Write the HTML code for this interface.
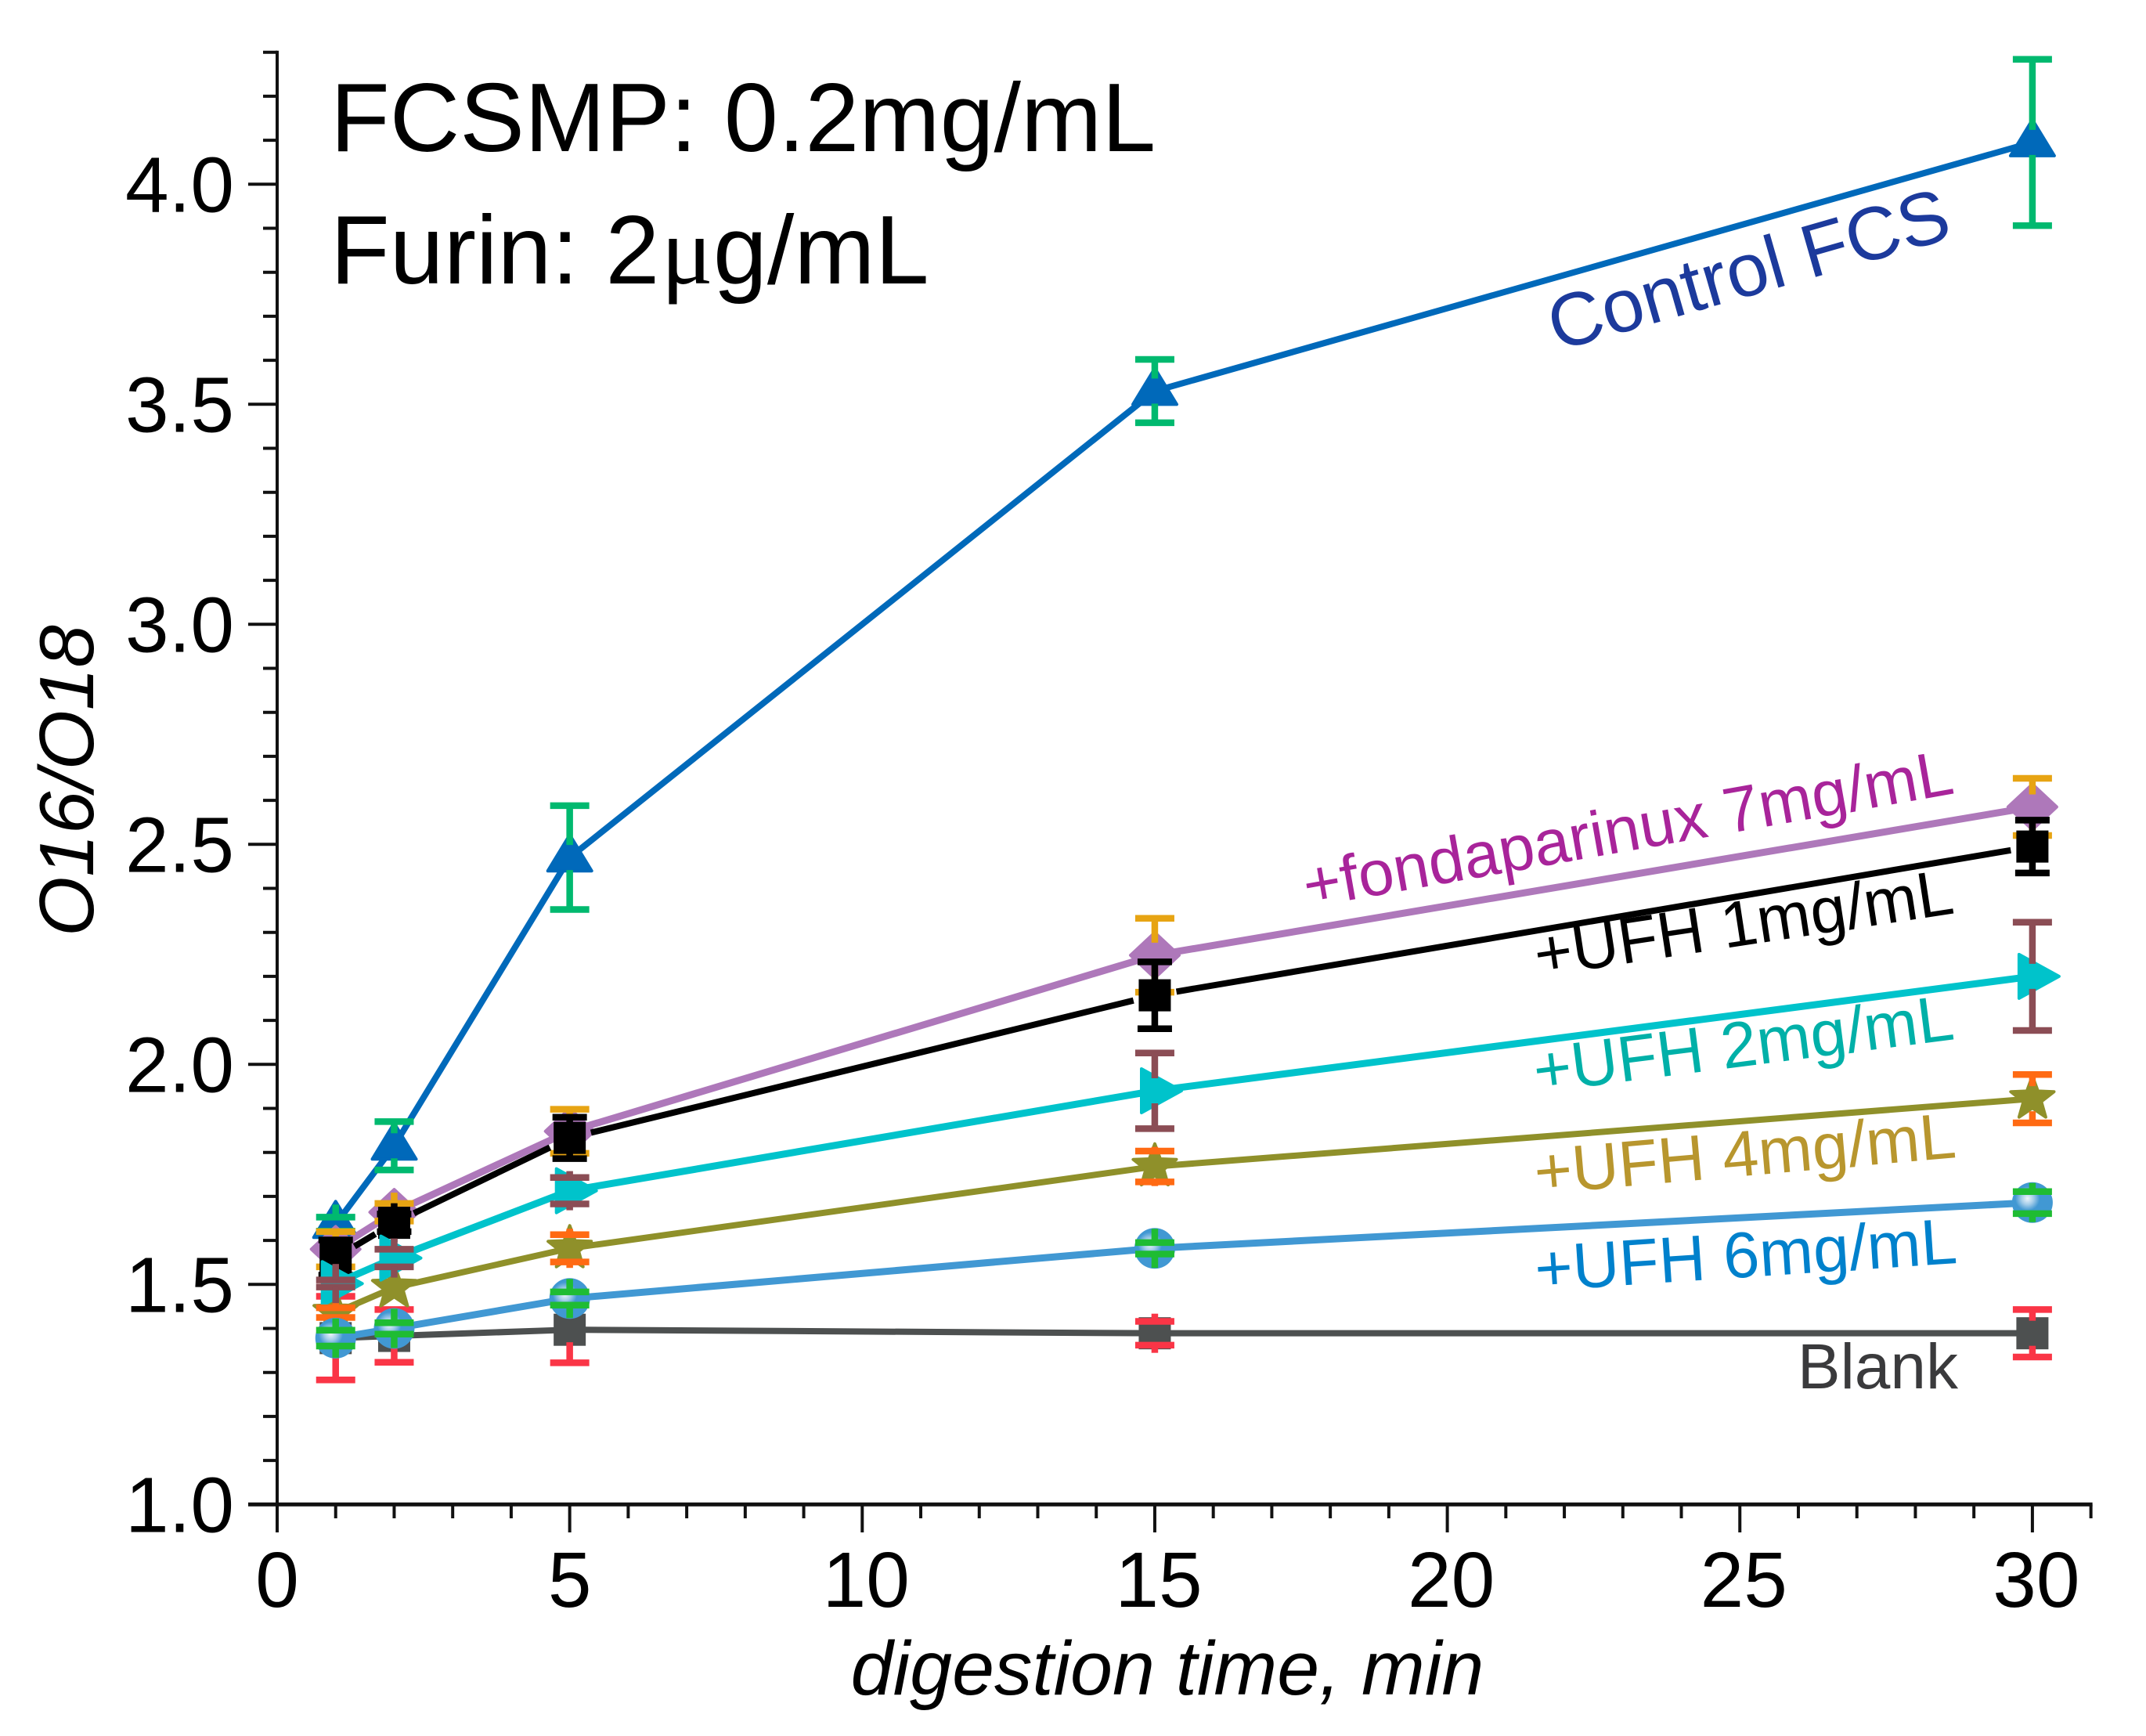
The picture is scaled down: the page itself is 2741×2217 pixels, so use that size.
<!DOCTYPE html>
<html lang="en">
<head>
<meta charset="utf-8">
<title>O16/O18 digestion time chart</title>
<style>
  html, body { margin: 0; padding: 0; background: #fff; }
  svg { display: block; }
  text { font-family: "Liberation Sans", sans-serif; }
</style>
</head>
<body>
<svg id="chart" xmlns="http://www.w3.org/2000/svg" width="2741" height="2217" viewBox="0 0 2741 2217">
  <defs>
    <radialGradient id="shine" cx="0.38" cy="0.4" r="0.3">
      <stop offset="0" stop-color="#eef5fb"/>
      <stop offset="0.5" stop-color="#a4cde9"/>
      <stop offset="1" stop-color="#4198d3"/>
    </radialGradient>
  </defs>
  <rect width="2741" height="2217" fill="#fff"/>
  <g id="axes"></g>
  <g id="marks"></g>

  <text x="422" y="193" font-size="124" fill="#000">FCSMP: 0.2mg/mL</text>
  <text x="422" y="362" font-size="124" fill="#000">Furin: 2<tspan style="font-family:'Liberation Serif',serif" dx="2">μ</tspan>g/mL</text>

  <text x="1491" y="2164" font-size="97" font-style="italic" text-anchor="middle" fill="#000">digestion time, min</text>
  <text transform="translate(119 997) rotate(-90)" font-size="98" font-style="italic" text-anchor="middle" fill="#000">O16/O18</text>

  <text transform="translate(2496 303) rotate(-16)" font-size="96" text-anchor="end" fill="#1c3a9c">Control FCS</text>
  <text transform="translate(2498 1013) rotate(-10)" font-size="82" text-anchor="end" fill="#a8249a">+fondaparinux 7mg/mL</text>
  <text transform="translate(2498 1166) rotate(-8.7)" font-size="82.7" text-anchor="end" fill="#000">+UFH 1mg/mL</text>
  <text transform="translate(2498 1327) rotate(-7.3)" font-size="82.7" text-anchor="end" fill="#00b0a8">+UFH 2mg/mL</text>
  <text transform="translate(2500 1478) rotate(-5)" font-size="82.7" text-anchor="end" fill="#b8962e">+UFH 4mg/mL</text>
  <text transform="translate(2501 1613) rotate(-3.8)" font-size="82.7" text-anchor="end" fill="#0081cc">+UFH 6mg/mL</text>
  <text x="2501" y="1773" font-size="82" text-anchor="end" fill="#3a3a3c">Blank</text>
</svg>

<script>
const times = [1, 2, 5, 15, 30];
const xTickLabels = [0, 5, 10, 15, 20, 25, 30];
const yTickLabels = ['1.0', '1.5', '2.0', '2.5', '3.0', '3.5', '4.0'];

const blankValues = [1.378, 1.383, 1.397, 1.389, 1.389];
const blankErrors = [0.095, 0.060, 0.075, 0.027, 0.054];
const controlValues = [1.637, 1.815, 2.470, 3.530, 4.095];
const controlErrors = [0.016, 0.055, 0.118, 0.072, 0.189];
const fondaValues = [1.580, 1.664, 1.848, 2.248, 2.585];
const fondaErrors = [0.040, 0.020, 0.050, 0.084, 0.065];
const ufh1Values = [1.561, 1.640, 1.833, 2.157, 2.495];
const ufh1Errors = [0.040, 0.020, 0.047, 0.076, 0.060];
const ufh2Values = [1.502, 1.560, 1.713, 1.940, 2.200];
const ufh2Errors = [0.008, 0.020, 0.030, 0.086, 0.123];
const ufh4Values = [1.436, 1.493, 1.582, 1.768, 1.922];
const ufh4Errors = [0.011, 0, 0.031, 0.035, 0.055];
const ufh6Values = [1.378, 1.400, 1.468, 1.582, 1.686];
const ufh6Errors = [0.018, 0.013, 0.015, 0.013, 0.025];

const NS = 'http://www.w3.org/2000/svg';
const axes = document.getElementById('axes');
const marks = document.getElementById('marks');

function xScale(v) { return 354 + v * 74.73; }
function yScale(v) { return 1921.3 - (v - 1) * 562; }

function make(tag, attrs, parent) {
  const node = document.createElementNS(NS, tag);
  for (const k in attrs) node.setAttribute(k, attrs[k]);
  parent.appendChild(node);
  return node;
}

/* ---------- axes ---------- */
const axisColor = '#111';
const yAxisLine = make('line', { x1: xScale(0), x2: xScale(0), y1: yScale(4.3) - 2, y2: 1957, stroke: axisColor, 'stroke-width': 4 }, axes);


const xAxisLine = make('line', { x1: 317, x2: xScale(31) + 2, y1: yScale(1), y2: yScale(1), stroke: axisColor, 'stroke-width': 5 }, axes);



for (let i = 1; i <= 33; i++) {
  if (i % 5 === 0) continue;
  const yv = 1 + i / 10;
  const t = make('line', { x1: xScale(0) - 18, x2: xScale(0), y1: yScale(yv), y2: yScale(yv), stroke: axisColor, 'stroke-width': 4 }, axes);
  
  
}
yTickLabels.forEach(function (lab) {
  const yv = parseFloat(lab);
  const t = make('line', { x1: xScale(0) - 37, x2: xScale(0), y1: yScale(yv), y2: yScale(yv), stroke: axisColor, 'stroke-width': 4 }, axes);
  
  
  const txt = make('text', { x: 299, y: yScale(yv) + 35, 'font-size': 100, 'text-anchor': 'end', fill: '#000' }, axes);
  txt.textContent = lab;
  
  
});
for (let i = 1; i <= 31; i++) {
  if (i % 5 === 0) continue;
  const t = make('line', { x1: xScale(i), x2: xScale(i), y1: yScale(1), y2: 1939, stroke: axisColor, 'stroke-width': 4 }, axes);
  
  
}
xTickLabels.forEach(function (lab) {
  const t = make('line', { x1: xScale(lab), x2: xScale(lab), y1: yScale(1), y2: 1957, stroke: axisColor, 'stroke-width': 4 }, axes);
  
  
  const shift = lab >= 10 ? 5 : 0;
  const txt = make('text', { x: xScale(lab) + shift, y: 2052, 'font-size': 100, 'text-anchor': 'middle', fill: '#000' }, axes);
  txt.textContent = lab;
  
  
});

/* ---------- series drawing ---------- */
function points(list) {
  return list.map(function (p) { return p[0].toFixed(1) + ',' + p[1].toFixed(1); }).join(' ');
}

function drawMarker(shape, cx, cy, color, name) {
  let m;
  if (shape === 'square') {
    m = make('rect', { x: cx - 20.5, y: cy - 20.5, width: 41, height: 41, fill: color }, marks);
  } else if (shape === 'circle') {
    m = make('circle', { cx: cx, cy: cy, r: 26, fill: 'url(#shine)' }, marks);
  } else {
    let pts = [];
    if (shape === 'up') pts = [[cx, cy - 29], [cx + 28, cy + 17], [cx - 28, cy + 17]];
    if (shape === 'right') pts = [[cx + 34, cy], [cx - 17, cy + 28], [cx - 17, cy - 28]];
    if (shape === 'diamond') pts = [[cx + 31, cy], [cx, cy + 29], [cx - 31, cy], [cx, cy - 29]];
    if (shape === 'star') {
      for (let k = 0; k < 10; k++) {
        const r = k % 2 === 0 ? 29 : 12;
        const a = -Math.PI / 2 + k * Math.PI / 5;
        pts.push([cx + r * Math.cos(a), cy + r * Math.sin(a)]);
      }
    }
    m = make('polygon', { points: points(pts), fill: color, stroke: color, 'stroke-width': 4, 'stroke-linejoin': 'round' }, marks);
  }
  
  
}

function drawLine(s) {
  for (let i = 0; i < times.length - 1; i++) {
    let x1 = xScale(times[i]), y1 = yScale(s.values[i]);
    let x2 = xScale(times[i + 1]), y2 = yScale(s.values[i + 1]);
    if (s.gap) {
      const len = Math.hypot(x2 - x1, y2 - y1);
      const ux = (x2 - x1) / len, uy = (y2 - y1) / len;
      x1 += ux * s.gap; y1 += uy * s.gap;
      x2 -= ux * s.gap; y2 -= uy * s.gap;
    }
    const seg = make('line', { x1: x1, y1: y1, x2: x2, y2: y2, stroke: s.line, 'stroke-width': s.width }, marks);
    
    
  }
}

function drawErrors(s) {
  times.forEach(function (t, i) {
    const e = s.errors[i];
    if (!e) return;
    const cx = xScale(t), top = yScale(s.values[i] + e), bottom = yScale(s.values[i] - e), cy = yScale(s.values[i]);
    const half = (bottom - top) / 2;
    const w = s.capHalf || 25;
    [[top, -1], [bottom, 1]].forEach(function (c) {
      const capY = c[0], dir = c[1];
      const cap = make('line', { x1: cx - w, x2: cx + w, y1: capY, y2: capY, stroke: s.err, 'stroke-width': 8.5 }, marks);
      
      
      const inner = half < 22 ? 25 : 16;
      const st = make('line', { x1: cx, x2: cx, y1: capY, y2: cy + dir * inner, stroke: s.err, 'stroke-width': 8.5 }, marks);
      
      
    });
  });
}

function drawSeriesMarks(s) {
  drawLine(s);
  times.forEach(function (t, i) {
    drawMarker(s.shape, xScale(t), yScale(s.values[i]), s.fill, s.name);
  });
}

const blank = { name: 'blank', values: blankValues, errors: blankErrors, shape: 'square', line: '#4d5050', fill: '#4d5050', err: '#fa3546', width: 8 };
const control = { name: 'control-fcs', values: controlValues, errors: controlErrors, shape: 'up', line: '#0069ba', fill: '#0069ba', err: '#00b96f', width: 8 };
const fonda = { name: 'fondaparinux', values: fondaValues, errors: fondaErrors, shape: 'diamond', line: '#ae78ba', fill: '#ae78ba', err: '#e7a413', width: 9 };
const ufh1 = { name: 'ufh-1', values: ufh1Values, errors: ufh1Errors, shape: 'square', line: '#000', fill: '#000', err: '#000', width: 8, gap: 28, capHalf: 22 };
const ufh2 = { name: 'ufh-2', values: ufh2Values, errors: ufh2Errors, shape: 'right', line: '#00c3cb', fill: '#00c3cb', err: '#8b4d55', width: 9 };
const ufh4 = { name: 'ufh-4', values: ufh4Values, errors: ufh4Errors, shape: 'star', line: '#8f902a', fill: '#8f902a', err: '#ff6a13', width: 8 };
const ufh6 = { name: 'ufh-6', values: ufh6Values, errors: ufh6Errors, shape: 'circle', line: '#4198d3', fill: '#4198d3', err: '#1fbc33', width: 9 };

[blank, control, fonda, ufh1].forEach(function (s) {
  drawSeriesMarks(s);
  drawErrors(s);
});
drawSeriesMarks(ufh4);
drawSeriesMarks(ufh2);
drawErrors(ufh4);
drawErrors(ufh2);
drawSeriesMarks(ufh6);
drawErrors(ufh6);
</script>
</body>
</html>
